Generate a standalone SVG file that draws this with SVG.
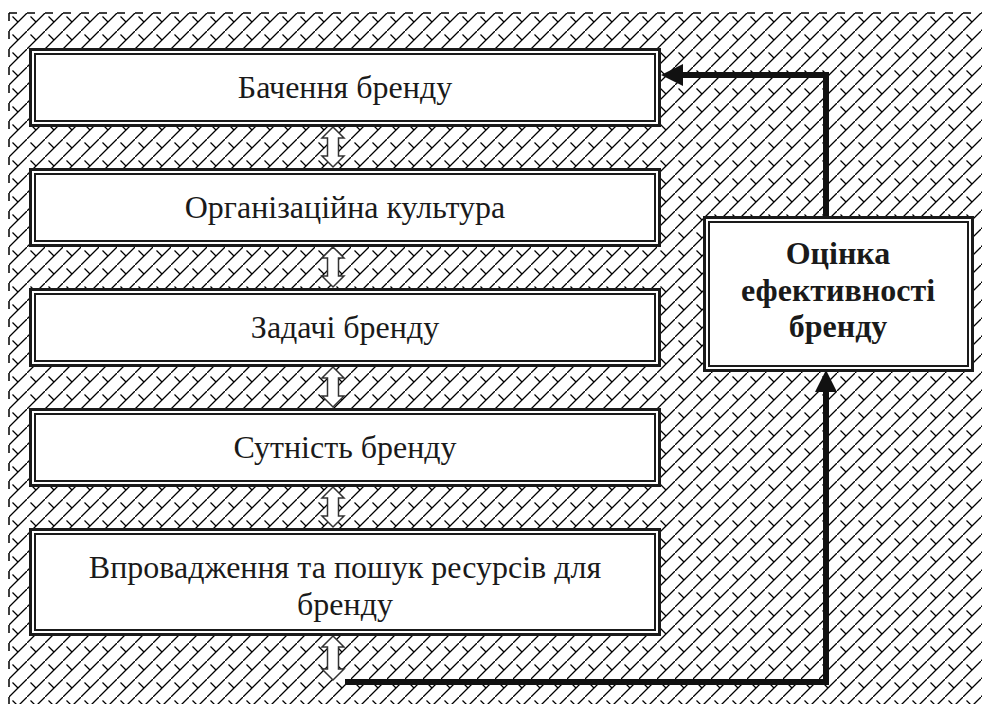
<svg xmlns="http://www.w3.org/2000/svg" width="982" height="704" viewBox="0 0 982 704">
<style>
.bo{fill:#fff;stroke:#1a1a1a;stroke-width:3}
.bi{fill:none;stroke:#1a1a1a;stroke-width:2}
.t{font-family:"Liberation Serif","Times New Roman",serif;font-size:32px;fill:#1a1a1a;text-anchor:middle}
.tb{font-family:"Liberation Serif","Times New Roman",serif;font-size:32px;font-weight:bold;fill:#1a1a1a;text-anchor:middle}
.dbl{fill:#fff;stroke:#333;stroke-width:1.5;stroke-linejoin:miter}
.con{fill:none;stroke:#111;stroke-width:6;stroke-linejoin:miter;stroke-linecap:butt}
</style>
<defs>
<pattern id="hatch" patternUnits="userSpaceOnUse" x="9" y="13" width="18" height="18">
<path d="M0,18 L18,0 M3.5,3.5 L9,9" fill="none" stroke="#000" stroke-width="1.3"/>
</pattern>
<marker id="ah" markerUnits="userSpaceOnUse" markerWidth="24" markerHeight="24" viewBox="0 -12 24 24" refX="0" refY="0" orient="auto">
<path d="M0,-11 L22,0 L0,11 Z" fill="#111"/>
</marker>
<path id="dbl40" class="dbl" d="M0,0 L11,11 L5.5,11 L5.5,29 L11,29 L0,40 L-11,29 L-5.5,29 L-5.5,11 L-11,11 Z"/>
</defs>
<rect width="982" height="704" fill="#fff"/>
<rect x="9" y="13" width="973" height="691" fill="url(#hatch)"/>
<path d="M9,13 H982 M9,13 V704" fill="none" stroke="#000" stroke-width="1.5" stroke-dasharray="8 10"/>

<g id="connectors">
<use href="#dbl40" x="333" y="127"/>
<use href="#dbl40" x="333" y="247"/>
<use href="#dbl40" x="333" y="367"/>
<use href="#dbl40" x="333" y="487"/>
<path class="dbl" d="M333,636 L344,647 L338.5,647 L338.5,669 L344,669 L333,680 L322,669 L327.5,669 L327.5,647 L322,647 Z"/>
<path class="con" d="M345,682 H826 V392" marker-end="url(#ah)"/>
<path class="con" d="M826,216 V75 H683" marker-end="url(#ah)"/>
</g>

<g id="n1">
<rect class="bo" x="30.5" y="49.5" width="629" height="76"/>
<rect class="bi" x="35" y="54" width="620" height="67"/>
<text class="t" x="345" y="98">Бачення бренду</text>
</g>
<g id="n2">
<rect class="bo" x="30.5" y="169.5" width="629" height="76"/>
<rect class="bi" x="35" y="174" width="620" height="67"/>
<text class="t" x="345" y="218">Організаційна культура</text>
</g>
<g id="n3">
<rect class="bo" x="30.5" y="289.5" width="629" height="76"/>
<rect class="bi" x="35" y="294" width="620" height="67"/>
<text class="t" x="345" y="338">Задачі бренду</text>
</g>
<g id="n4">
<rect class="bo" x="30.5" y="409.5" width="629" height="76"/>
<rect class="bi" x="35" y="414" width="620" height="67"/>
<text class="t" x="345" y="458">Сутність бренду</text>
</g>
<g id="n5">
<rect class="bo" x="30.5" y="529.5" width="629" height="105"/>
<rect class="bi" x="35" y="534" width="620" height="96"/>
<text class="t" x="345" y="578">Впровадження та пошук ресурсів для</text>
<text class="t" x="345" y="615">бренду</text>
</g>
<g id="n6">
<rect class="bo" x="704.5" y="217.5" width="268" height="153"/>
<rect class="bi" x="709" y="222" width="259" height="144"/>
<text class="tb" x="838" y="264">Оцінка</text>
<text class="tb" x="838" y="301">ефективності</text>
<text class="tb" x="838" y="337">бренду</text>
</g>
</svg>
